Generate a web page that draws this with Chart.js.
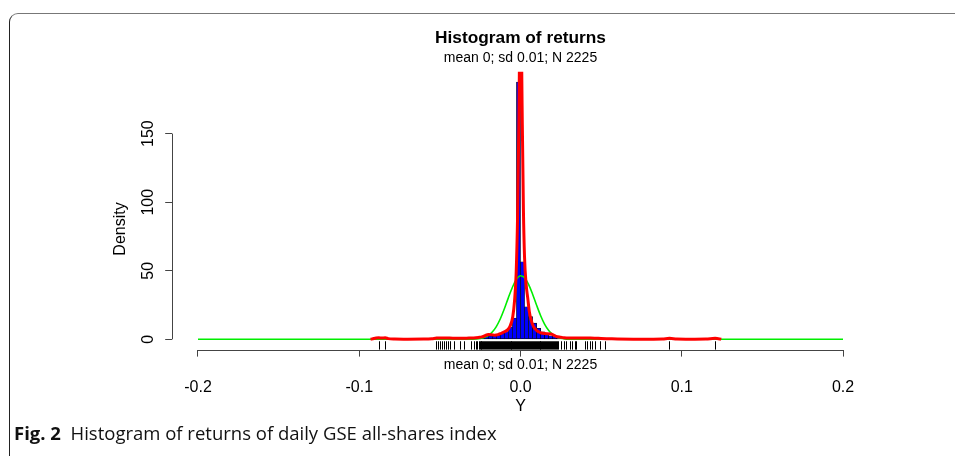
<!DOCTYPE html>
<html><head><meta charset="utf-8">
<script src="https://cdn.jsdelivr.net/npm/chart.js@4.4.0/dist/chart.umd.min.js"></script>
<style>
html,body{margin:0;padding:0;background:#fff;}
#wrap{position:relative;width:955px;height:456px;overflow:hidden;background:#fff;}
#c{position:absolute;left:0;top:0;}
#frame{position:absolute;left:9px;top:13px;width:980px;height:480px;border-top:1.5px solid #777;border-left:1.5px solid #222;border-top-left-radius:9px;box-sizing:border-box;pointer-events:none;}
#caption{position:absolute;left:14px;top:424px;font-family:"Open Sans",sans-serif;font-size:18.5px;line-height:18px;color:#111;white-space:pre;}
#caption b{font-weight:700;}
</style></head>
<body><div id="wrap">
<canvas id="c" width="955" height="456"></canvas>
<div id="frame"></div>
<div id="caption"><b>Fig. 2</b>  Histogram of returns of daily GSE all-shares index</div>
</div>
<script>
// ---- data ----
const titleText = 'Histogram of returns';
const subText = 'mean 0; sd 0.01; N 2225';
const xTitle = 'Y';
const yTitle = 'Density';

const xTicks = [-0.2, -0.1, 0, 0.1, 0.2];
const xTickLabels = ['-0.2', '-0.1', '0.0', '0.1', '0.2'];
const yTicks = [0, 50, 100, 150];

// histogram: first break and bin width, densities per bin (left to right)
const binStart = -0.09;
const binWidth = 0.0025;
const densities = [
  0.18, 0, 0.18, 0, 0, 0, 0, 0, 0, 0, 0, 0, 0, 0,
  0.18, 0.54, 0.36, 0.36, 0.36, 0.36, 0.18, 0.36, 0.18, 0.54,
  0.9, 1.1, 1.5, 2.0, 2.4, 2.4, 3.0, 4.5, 5.5, 9.0, 15.5,
  187.6,
  56.5, 23.7, 16.5, 11.8, 8.0, 5.5, 3.7, 2.5, 2.0, 1.5, 1.2, 0.9, 0.9, 0.7, 0.5, 0.5,
  0.36, 0.36, 0.36, 0.18, 0.18,
  0, 0, 0, 0, 0, 0, 0, 0, 0, 0, 0, 0, 0, 0, 0,
  0.18,
  0, 0, 0, 0, 0, 0, 0, 0, 0, 0, 0,
  0.18, 0
];

// fitted normal curve (green)
const normX = [-0.2, -0.04, -0.035, -0.03, -0.0275, -0.025, -0.0225, -0.02, -0.0175, -0.015, -0.0125, -0.01, -0.0075, -0.005, -0.0025, 0, 0.0025, 0.005, 0.0075, 0.01, 0.0125, 0.015, 0.0175, 0.02, 0.0225, 0.025, 0.0275, 0.03, 0.035, 0.04, 0.2];
const normY = [0, 0, 0.01, 0.09, 0.24, 0.59, 1.34, 2.78, 5.31, 9.31, 15.0, 22.3, 30.4, 38.0, 43.7, 46.3, 44.9, 40.1, 32.9, 24.8, 17.2, 10.9, 6.4, 3.45, 1.7, 0.78, 0.32, 0.12, 0.01, 0, 0];

// kernel density (red)
const kdeX = [-0.093, -0.0915, -0.0895, -0.0879, -0.086, -0.0839, -0.082, -0.078, -0.07, -0.06, -0.055, -0.052, -0.048, -0.044, -0.041, -0.038, -0.035, -0.032, -0.029, -0.026, -0.024, -0.022, -0.02, -0.018, -0.016, -0.014, -0.012, -0.01, -0.008, -0.0065, -0.0048, -0.0037, -0.0027, -0.0018, -0.001, -0.0004, 0, 0.0004, 0.001, 0.0018, 0.0025, 0.0035, 0.0045, 0.0055, 0.0066, 0.008, 0.0097, 0.0112, 0.0128, 0.015, 0.019, 0.022, 0.025, 0.027, 0.03, 0.034, 0.038, 0.042, 0.046, 0.05, 0.055, 0.06, 0.07, 0.08, 0.088, 0.0924, 0.097, 0.105, 0.115, 0.1207, 0.1235, 0.1245];
const kdeY = [0, 0.4, 0.9, 1.1, 0.9, 1.1, 0.5, 0.2, 0.1, 0.15, 0.4, 0.9, 1.0, 0.9, 0.8, 0.7, 0.8, 0.9, 1.0, 1.4, 1.8, 2.6, 3.6, 3.4, 3.0, 3.4, 4.4, 5.5, 6.9, 9.5, 16.5, 28, 48, 90, 160, 230, 260, 235, 170, 95, 60, 40, 30, 20, 14, 9.5, 6.8, 5.5, 4.6, 4.2, 3.9, 2.2, 1.5, 1.1, 0.9, 0.9, 1.0, 0.9, 0.8, 0.6, 0.4, 0.2, 0.1, 0.1, 0.2, 0.7, 0.2, 0.1, 0.2, 0.7, 0.3, 0];

// rug of observations
const rugValues = [
  -0.0879, -0.0839,
  -0.0523, -0.0511, -0.0498, -0.0486, -0.0473, -0.0461, -0.0448, -0.0436, -0.0414,
  -0.0378, -0.0352, -0.0306, -0.0290, -0.0279, -0.0268, -0.0260,
  -0.0254, -0.0248, -0.0242, -0.0236, -0.0230, -0.0224, -0.0218, -0.0212, -0.0206, -0.0200,
  -0.0194, -0.0188, -0.0182, -0.0176, -0.0170, -0.0164, -0.0158, -0.0152, -0.0146, -0.0140,
  -0.0134, -0.0128, -0.0122, -0.0116, -0.0110, -0.0104, -0.0098, -0.0092, -0.0086, -0.0080,
  -0.0074, -0.0068, -0.0062, -0.0056, -0.0050, -0.0044, -0.0038, -0.0032, -0.0026, -0.0020,
  -0.0014, -0.0008, -0.0002, 0.0004, 0.0010, 0.0016, 0.0022, 0.0028, 0.0034, 0.0040,
  0.0046, 0.0052, 0.0058, 0.0064, 0.0070, 0.0076, 0.0082, 0.0088, 0.0094, 0.0100,
  0.0106, 0.0112, 0.0118, 0.0124, 0.0130, 0.0136, 0.0142, 0.0148, 0.0154, 0.0160,
  0.0166, 0.0172, 0.0178, 0.0184, 0.0190, 0.0196, 0.0202, 0.0208, 0.0214, 0.0220,
  0.0226, 0.0232,
  0.0252, 0.0267, 0.0283, 0.0304, 0.0321, 0.0335, 0.0345, 0.0397, 0.0411, 0.0428, 0.0442, 0.0459, 0.0490, 0.0521,
  0.0924, 0.1207
];

// ---- chart ----
const FONT = '"Liberation Sans", Arial, sans-serif';
const histData = densities.map((d, i) => ({x: binStart + (i + 0.5) * binWidth, y: d}));
const normData = normX.map((v, i) => ({x: v, y: normY[i]}));
const kdeData = kdeX.map((v, i) => ({x: v, y: kdeY[i]}));

const rPlot = {
  id: 'rPlot',
  afterDatasetsDraw(chart) {
    const {ctx, chartArea: a, scales: {x, y}} = chart;
    ctx.save();
    // rug
    ctx.strokeStyle = '#000';
    ctx.lineWidth = 1;
    const rugLen = (a.bottom - a.top) * 0.03;
    ctx.beginPath();
    for (const v of rugValues) {
      const px = Math.round(x.getPixelForValue(v)) + 0.5;
      ctx.moveTo(px, a.bottom);
      ctx.lineTo(px, a.bottom - rugLen);
    }
    ctx.stroke();
    // axis lines spanning the tick range (R style)
    ctx.strokeStyle = '#444';
    ctx.lineWidth = 1;
    ctx.beginPath();
    const by = Math.round(a.bottom) + 0.5;
    ctx.moveTo(x.getPixelForValue(xTicks[0]), by);
    ctx.lineTo(x.getPixelForValue(xTicks[xTicks.length - 1]), by);
    const lx = Math.round(a.left) + 0.5;
    ctx.moveTo(lx, y.getPixelForValue(yTicks[0]));
    ctx.lineTo(lx, y.getPixelForValue(yTicks[yTicks.length - 1]));
    ctx.stroke();
    // lower subtitle
    ctx.fillStyle = '#000';
    ctx.font = '14px ' + FONT;
    ctx.textAlign = 'center';
    ctx.textBaseline = 'middle';
    ctx.fillText(subText, (a.left + a.right) / 2, a.bottom + 15.5);
    // y axis title
    ctx.translate(121, 229);
    ctx.rotate(-Math.PI / 2);
    ctx.font = '16px ' + FONT;
    ctx.fillText(yTitle, 0, 0);
    ctx.restore();
  }
};

new Chart(document.getElementById('c'), {
  type: 'line',
  data: {
    datasets: [
      {type: 'line', data: kdeData, borderColor: '#ff0000', borderWidth: 3, pointRadius: 0, cubicInterpolationMode: 'monotone', order: 1},
      {type: 'line', data: normData, borderColor: '#00ee00', borderWidth: 1.6, pointRadius: 0, cubicInterpolationMode: 'monotone', order: 2},
      {type: 'bar', data: histData, backgroundColor: '#0000ff', borderColor: '#000', borderWidth: 0.6, borderSkipped: false, barPercentage: 1, categoryPercentage: 1, order: 3}
    ]
  },
  options: {
    responsive: false,
    animation: false,
    devicePixelRatio: 1,
    events: [],
    layout: {padding: {left: 0, right: 86.2, top: 0, bottom: 0}},
    plugins: {
      legend: {display: false},
      tooltip: {enabled: false},
      title: {display: true, text: titleText, fullSize: false, color: '#000',
        font: {family: FONT, size: 17.3, weight: 'bold', lineHeight: 1.2}, padding: {top: 27.8, bottom: 0}},
      subtitle: {display: true, text: subText, fullSize: false, color: '#000',
        font: {family: FONT, size: 14, lineHeight: 1.2}, padding: {top: 1, bottom: 5.4}}
    },
    scales: {
      x: {
        type: 'linear', min: -0.216, max: 0.216, offset: false,
        afterBuildTicks: s => { s.ticks = xTicks.map(v => ({value: v})); },
        afterFit: s => { s.height = 106.4; },
        ticks: {autoSkip: false, maxRotation: 0, color: '#000', padding: 21,
          font: {family: FONT, size: 16},
          callback: v => xTickLabels[xTicks.indexOf(v)]},
        grid: {offset: false, drawOnChartArea: false, drawTicks: true, tickLength: 7, color: '#444', lineWidth: 1},
        border: {display: false},
        title: {display: true, text: xTitle, color: '#000', font: {family: FONT, size: 16}, padding: {top: 0, bottom: 39.4}}
      },
      y: {
        type: 'linear', min: -7.5, max: 195.1,
        afterBuildTicks: s => { s.ticks = yTicks.map(v => ({value: v})); },
        afterFit: s => { s.width = 172.2; },
        ticks: {autoSkip: false, minRotation: 90, maxRotation: 90, crossAlign: 'center', color: '#000', padding: 3,
          font: {family: FONT, size: 16},
          callback: v => String(v)},
        grid: {offset: false, drawOnChartArea: false, drawTicks: true, tickLength: 7, color: '#444', lineWidth: 1},
        border: {display: false},
        title: {display: false}
      }
    }
  },
  plugins: [rPlot]
});
</script>
</body></html>
